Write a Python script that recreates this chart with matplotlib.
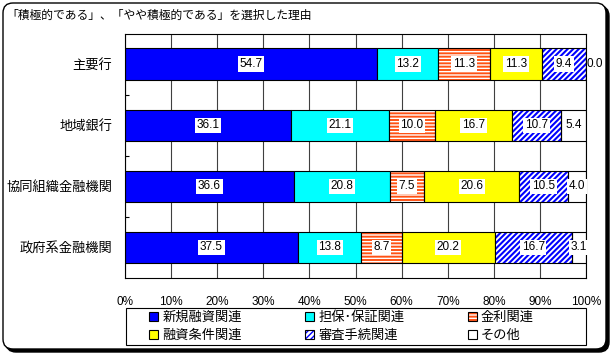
import matplotlib
matplotlib.use('Agg')
import matplotlib.pyplot as plt
import numpy as np
from matplotlib.patches import Patch, FancyBboxPatch, Rectangle
from matplotlib.transforms import IdentityTransform

plt.rcParams['font.family'] = ['Noto Sans CJK JP', 'DejaVu Sans']
plt.rcParams['hatch.linewidth'] = 1.0

title = '「積極的である」、「やや積極的である」を選択した理由'
categories = ['主要行', '地域銀行', '協同組織金融機関', '政府系金融機関']
series_names = ['新規融資関連', '担保･保証関連', '金利関連', '融資条件関連', '審査手続関連', 'その他']

shinki = [54.7, 36.1, 36.6, 37.5]
tanpo = [13.2, 21.1, 20.8, 13.8]
kinri = [11.3, 10.0, 7.5, 8.7]
joken = [11.3, 16.7, 20.6, 20.2]
shinsa = [9.4, 10.7, 10.5, 16.7]
sonota = [0.0, 5.4, 4.0, 3.1]
x_ticks = [0, 10, 20, 30, 40, 50, 60, 70, 80, 90, 100]

series = [shinki, tanpo, kinri, joken, shinsa, sonota]
colors = ['#0000ff', '#00ffff', '#ff5214', '#ffff00', '#ffffff', '#ffffff']
hatch_fg = [None, None, 'white', None, '#0000ff', None]
hatches = [None, None, '-----', None, '//////', None]
hatch_lw = [1.0, 1.0, 1.0, 1.0, 1.5, 1.0]

fig = plt.figure(figsize=(6.16, 3.59), dpi=100)

# outer rounded frame with shadow (pixel coords)
shadow = FancyBboxPatch((6, 7), 603, 346, boxstyle='round,pad=0,rounding_size=10',
                        transform=IdentityTransform(), fc='black', ec='black', lw=1, zorder=-2)
frame = FancyBboxPatch((3, 10), 603, 346, boxstyle='round,pad=0,rounding_size=10',
                       transform=IdentityTransform(), fc='white', ec='black', lw=1, zorder=-1)
fig.add_artist(shadow)
fig.add_artist(frame)

fig.text(6 / 616, 1 - 15 / 359, title, fontsize=8.5, ha='left', va='center')

ax = fig.add_axes([125 / 616, 1 - 278 / 359, 461 / 616, 244.5 / 359])
y = np.arange(len(categories))
left = np.zeros(len(categories))
num_font = dict(family='Liberation Sans', size=8.5)

for vals, fc, hc, h, hl in zip(series, colors, hatch_fg, hatches, hatch_lw):
    vals = np.array(vals)
    if h:
        with plt.rc_context({'hatch.linewidth': hl}):
            ax.barh(y, vals, left=left, height=0.51, color=fc, edgecolor=hc, hatch=h,
                    linewidth=0, zorder=2)
        ax.barh(y, vals, left=left, height=0.51, fill=False, edgecolor='black',
                linewidth=0.8, zorder=3)
    else:
        ax.barh(y, vals, left=left, height=0.51, color=fc, edgecolor='black',
                linewidth=0.8, zorder=2)
    for j, v in enumerate(vals):
        if v == 0:
            ax.text(left[j] + 0.2, y[j], f'{v:.1f}', ha='left', va='center',
                    fontdict=num_font, zorder=5)
        else:
            ax.text(left[j] + v / 2, y[j], f'{v:.1f}', ha='center', va='center',
                    fontdict=num_font, zorder=5,
                    bbox=dict(fc='white', ec='none', pad=1.2))
    left += vals

ax.set_xlim(0, 100)
ax.set_ylim(3.5, -0.5)
ax.set_xticks(x_ticks)
ax.set_xticklabels([f'{t}%' for t in x_ticks], fontdict=num_font)
ax.xaxis.grid(True, color='#404040', linewidth=0.8, zorder=0)
ax.set_axisbelow(True)
ax.tick_params(axis='x', length=0, pad=13)
ax.set_yticks(y)
ax.set_yticklabels(categories, fontsize=9.5)
ax.tick_params(axis='y', which='major', length=0, pad=9)
ax.set_yticks([0.5, 1.5, 2.5], minor=True)
ax.tick_params(axis='y', which='minor', direction='in', length=3, width=0.8)
for s in ax.spines.values():
    s.set_color('black')
    s.set_linewidth(0.8)

# legend: box drawn separately, entries placed inside it
handles = []
for fc, hc, h, hl in zip(colors, hatch_fg, hatches, hatch_lw):
    if h:
        with plt.rc_context({'hatch.linewidth': hl}):
            p = Patch(facecolor=fc, edgecolor=hc, hatch=h, linewidth=0)
        handles.append((p, Patch(fill=False, edgecolor='black', linewidth=0.8)))
    else:
        handles.append(Patch(facecolor=fc, edgecolor='black', linewidth=0.8))
order = [0, 3, 1, 4, 2, 5]
fig.add_artist(Rectangle((126, 359 - 345), 460, 37, transform=IdentityTransform(),
                         fill=False, ec='black', lw=0.8))
leg = fig.legend([handles[i] for i in order], [series_names[i] for i in order],
                 loc='center left', bbox_to_anchor=(149 / 616, 1 - 326.5 / 359),
                 ncol=3, frameon=False, handlelength=0.7, handleheight=0.7,
                 handletextpad=0.3, fontsize=9.5, borderaxespad=0, labelspacing=0.35,
                 borderpad=0, columnspacing=4.8)

fig.savefig('out.png', dpi=100)
